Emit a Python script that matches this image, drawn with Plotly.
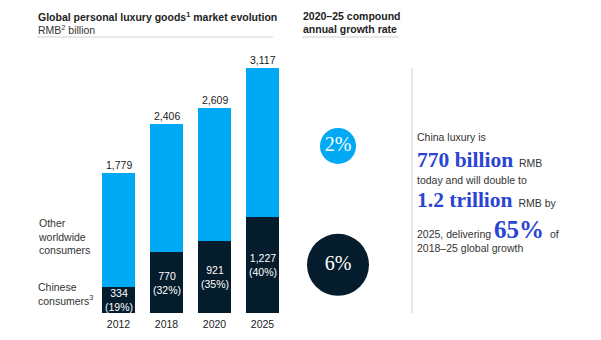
import plotly.graph_objects as go

# ---- data ----
years = ["2012", "2018", "2020", "2025"]
totals = [1779, 2406, 2609, 3117]
chinese = [334, 770, 921, 1227]
chinese_share = [19, 32, 35, 40]
other = [t - c for t, c in zip(totals, chinese)]
cagr_labels = ["2%", "6%"]          # other worldwide, Chinese (2020-25)

W, H = 601, 340
LIGHT = "#00a9f4"
DARK = "#051c2c"
BLUE = "#2a44d4"
TXT = "#222222"
SANS = "Liberation Sans, Arial, sans-serif"
SERIF = "Liberation Serif, Times New Roman, serif"


def px(x):
    return x / W


def py(y):
    return 1 - y / H


fig = go.Figure()
fig.add_trace(go.Bar(x=years, y=chinese, marker=dict(color=DARK, line=dict(width=0)),
                     hoverinfo="skip", showlegend=False))
fig.add_trace(go.Bar(x=years, y=other, marker=dict(color=LIGHT, line=dict(width=0)),
                     hoverinfo="skip", showlegend=False))

# CAGR circles aligned with the 2025 segments
circle_y = [chinese[-1] + other[-1] * 0.475, chinese[-1] / 2]
fig.add_trace(go.Scatter(
    x=[0.5, 0.5], y=circle_y, xaxis="x2", yaxis="y",
    mode="markers+text", text=cagr_labels, textposition="middle center",
    textfont=dict(family=SERIF, size=20, color="white"),
    marker=dict(size=[36, 62], color=[LIGHT, DARK], opacity=1, line=dict(width=0)),
    hoverinfo="skip", showlegend=False, cliponaxis=False))

bottom_px, top_px = 313, 40
scale = 0.0786  # px per unit
ymax = (bottom_px - top_px) / scale

ann = []
for i, t in enumerate(totals):
    ann.append(dict(x=i, y=t, xref="x", yref="y", text=f"{t:,}", showarrow=False,
                    yanchor="bottom", yshift=0, font=dict(family=SANS, size=10.5, color=TXT)))
for i, (c, s) in enumerate(zip(chinese, chinese_share)):
    ann.append(dict(x=i, y=c / 2, xref="x", yref="y", text=f"{c:,}<br>({s}%)", showarrow=False,
                    yanchor="middle", font=dict(family=SANS, size=10.5, color="white")))


def pann(x, y, text, size=10.5, color=TXT, family=SANS, xanchor="left", yanchor="middle"):
    ann.append(dict(x=px(x), y=py(y), xref="paper", yref="paper", text=text, showarrow=False,
                    xanchor=xanchor, yanchor=yanchor, align="left",
                    font=dict(family=family, size=size, color=color)))


pann(36, 16, "<b>Global personal luxury goods<sup>1</sup> market evolution</b>")
pann(36, 29, "RMB<sup>2</sup> billion", color="#333333")
pann(301, 16, "<b>2020–25 compound</b>")
pann(301, 29, "<b>annual growth rate</b>")
pann(36, 236, "Other<br>worldwide<br>consumers", color="#333333")
pann(36, 294, "Chinese<br>consumers<sup>3</sup>", color="#333333")


def big(t, size=21.5):
    return (f'<span style="font-family:{SERIF};font-size:{size}px;fill:{BLUE}">'
            f'<b>{t}</b></span>')


pann(415, 137, "China luxury is", color="#333333")
pann(415, 160, big("770 billion") + "&nbsp;&nbsp;RMB", color="#333333")
pann(415, 180, "today and will double to", color="#333333")
pann(415, 200, big("1.2 trillion") + "&nbsp;&nbsp;RMB by", color="#333333")
pann(415, 229, "2025, delivering " + big("65%", 25) + "&nbsp;&nbsp;of", color="#333333")
pann(415, 248, "2018–25 global growth", color="#333333")

shapes = [
    dict(type="line", xref="paper", yref="paper", x0=px(37), x1=px(273), y0=py(37), y1=py(37),
         line=dict(color="#d0d0d0", width=1)),
    dict(type="line", xref="paper", yref="paper", x0=px(302), x1=px(398), y0=py(37), y1=py(37),
         line=dict(color="#d0d0d0", width=1)),
    dict(type="line", xref="paper", yref="paper", x0=px(412), x1=px(412), y0=py(68), y1=py(313),
         line=dict(color="#d0d0d0", width=1)),
]

fig.update_layout(
    width=W, height=H, margin=dict(l=0, r=0, t=0, b=0),
    paper_bgcolor="white", plot_bgcolor="rgba(0,0,0,0)",
    barmode="stack", bargap=0.3125,
    xaxis=dict(domain=[px(94.5), px(286.5)], range=[-0.5, 3.5], type="category",
               showgrid=False, zeroline=False, showline=False, ticks="",
               ticklabelstandoff=3,
               tickfont=dict(family=SANS, size=10.5, color=TXT), anchor="y"),
    xaxis2=dict(domain=[px(298), px(378)], range=[0, 1], visible=False, anchor="y"),
    yaxis=dict(domain=[py(bottom_px), py(top_px)], range=[0, ymax], visible=False),
    annotations=ann, shapes=shapes,
)

fig.write_html("out.html")
